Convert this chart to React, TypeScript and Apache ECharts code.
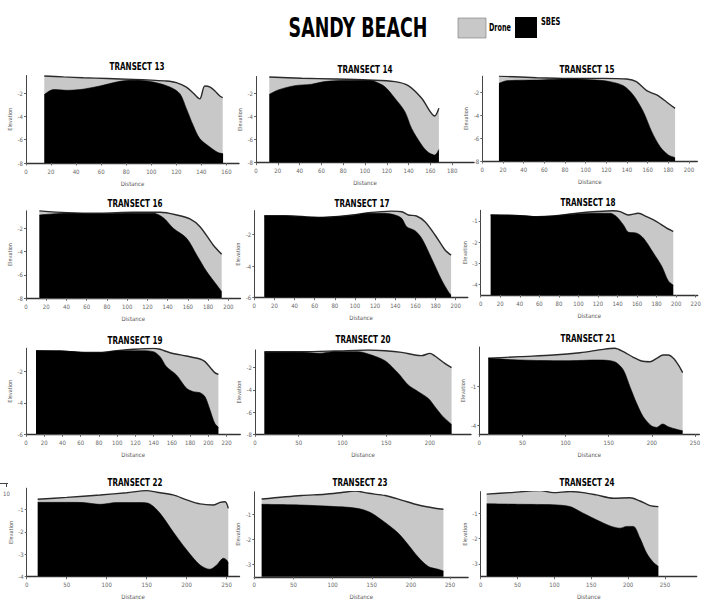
import React, { useEffect, useRef } from "react";
import * as echarts from "echarts";

const TRANSECTS = ["TRANSECT 13", "TRANSECT 14", "TRANSECT 15", "TRANSECT 16", "TRANSECT 17", "TRANSECT 18", "TRANSECT 19", "TRANSECT 20", "TRANSECT 21", "TRANSECT 22", "TRANSECT 23", "TRANSECT 24"];

const t13Drone = [[14.6,-0.54],[30,-0.62],[45.7,-0.69],[65,-0.76],[85.6,-0.83],[100,-0.9],[112,-0.97],[120,-1.11],[128,-1.49],[133.4,-2.0],[138.7,-2.5],[142.7,-1.4],[147,-1.5],[151,-1.85],[154.7,-2.26],[157,-2.4]];
const t13Sbes = [[14.6,-2.14],[21.8,-1.71],[32.4,-1.77],[43,-1.71],[59,-1.4],[75,-1.0],[85.6,-0.91],[101.5,-1.06],[114.8,-1.49],[122.8,-2.06],[128,-3.34],[133.4,-4.77],[138.7,-5.91],[146.7,-6.63],[153.4,-7.11],[157.3,-7.2]];
const t14Drone = [[12.2,-0.59],[41.9,-0.7],[72.4,-0.76],[103,-0.85],[127.4,-0.99],[139.7,-1.34],[152,-2.43],[164,-3.96],[167.8,-3.3]];
const t14Sbes = [[12.2,-2.09],[20.5,-1.71],[35.8,-1.34],[51,-1.22],[63,-0.99],[81.6,-0.9],[103,-0.9],[109,-0.99],[118,-1.42],[127.4,-2.43],[136.6,-3.59],[142.7,-5.03],[152,-6.47],[158,-7.1],[164,-7.34],[167.8,-6.85]];
const t15Drone = [[16.1,-0.54],[52.6,-0.68],[84.8,-0.74],[117,-0.74],[139.7,-0.8],[149,-1.03],[159,-1.82],[168.7,-2.2],[178,-2.79],[186.5,-3.38]];
const t15Sbes = [[16.1,-1.18],[23.5,-0.95],[52.6,-0.89],[84.8,-0.8],[110.6,-0.89],[123.5,-1.03],[136.5,-1.39],[146,-2.2],[155.8,-3.67],[163.9,-5.42],[172,-6.74],[180,-7.47],[186.5,-7.7]];
const t16Drone = [[13.2,-0.51],[40.2,-0.66],[73,-0.71],[106,-0.63],[132.5,-0.63],[149,-0.86],[162,-1.2],[172,-1.86],[185,-3.43],[193.4,-4.23]];
const t16Sbes = [[13.2,-0.86],[40.2,-0.71],[73,-0.77],[106,-0.71],[125.9,-0.71],[135.7,-1.09],[145.6,-2.0],[158.8,-2.86],[168.7,-4.29],[178.6,-5.71],[188.5,-6.86],[193.4,-7.43]];
const t17Drone = [[9.9,-0.82],[30.5,-0.82],[63.6,-0.93],[96.7,-0.78],[113,-0.63],[136.4,-0.53],[146.4,-0.57],[153,-0.78],[161,-0.84],[169.5,-1.2],[179.5,-2.04],[189.4,-2.99],[195.4,-3.31]];
const t17Sbes = [[9.9,-0.84],[30.5,-0.84],[63.6,-0.93],[96.7,-0.82],[113,-0.67],[129.8,-0.67],[139.7,-0.78],[146.4,-0.99],[151.3,-1.52],[159.6,-1.77],[166.2,-2.25],[176,-3.52],[186,-4.88],[192.7,-5.62],[195.4,-5.83]];
const t18Drone = [[10.2,-0.72],[40.2,-0.75],[57.3,-0.8],[74.4,-0.77],[98.2,-0.64],[118.7,-0.56],[135.7,-0.52],[142.6,-0.56],[151,-0.72],[161.3,-0.64],[169.8,-0.8],[180,-1.03],[190.3,-1.34],[197,-1.5]];
const t18Sbes = [[10.2,-0.72],[40.2,-0.75],[57.3,-0.8],[74.4,-0.77],[98.2,-0.67],[118.7,-0.64],[132.3,-0.64],[139,-0.8],[146,-1.19],[151,-1.53],[159.6,-1.58],[166.4,-1.81],[176.7,-2.52],[185.2,-3.14],[192,-3.84],[197,-4.03]];
const t19Drone = [[11,-0.66],[37.3,-0.68],[62.9,-0.77],[81,-0.77],[99.4,-0.66],[117.7,-0.57],[139.6,-0.51],[147,-0.57],[158,-0.79],[176,-1.0],[190.8,-1.19],[196.3,-1.36],[201.8,-1.72],[207,-2.06],[211,-2.17]];
const t19Sbes = [[11,-0.68],[37.3,-0.68],[62.9,-0.77],[81,-0.79],[99.4,-0.68],[125,-0.66],[139.6,-0.72],[147,-1.04],[154,-1.68],[165,-2.21],[176,-3.06],[183.5,-3.28],[190.8,-3.34],[196.3,-3.6],[201.8,-4.45],[207,-5.3],[211,-5.55]];
const t20Drone = [[10.7,-0.56],[53.3,-0.56],[91.4,-0.5],[129.5,-0.41],[148.6,-0.47],[167.6,-0.62],[182.9,-0.86],[190.5,-0.92],[200,-0.71],[205.7,-0.95],[217,-1.61],[224.8,-2.0]];
const t20Sbes = [[10.7,-0.62],[53.3,-0.62],[72.4,-0.71],[91.4,-0.56],[118,-0.56],[129.5,-0.77],[148.6,-1.37],[163.8,-2.51],[175.2,-3.56],[186.7,-4.16],[198,-4.76],[205.7,-5.51],[215,-6.41],[224.8,-7.1]];
const t21Drone = [[10.4,1.13],[47,1.26],[85.8,1.38],[116.7,1.56],[143.7,1.82],[157,1.9],[167,1.64],[178.5,1.21],[188,0.92],[197.8,0.87],[205.6,1.13],[213,1.38],[219,1.38],[225,1.13],[230.7,0.62],[235.7,0.03]];
const t21Sbes = [[10.4,1.13],[47,1.0],[85.8,0.95],[105,0.95],[136,1.0],[151.5,0.95],[159,0.79],[167,0.23],[174.6,-1.05],[182.4,-2.33],[190,-3.36],[199.8,-4.08],[205.6,-4.18],[212.5,-3.92],[219,-4.13],[228.7,-4.33],[235.7,-4.44]];
const t22Drone = [[13.75,-0.55],[50,-0.47],[91.7,-0.36],[125,-0.26],[150,-0.17],[162.5,-0.24],[183,-0.36],[200,-0.58],[216.7,-0.76],[233,-0.81],[241.7,-0.69],[248,-0.66],[252,-0.96]];
const t22Sbes = [[13.75,-0.69],[50,-0.69],[70.8,-0.7],[91.7,-0.78],[112.5,-0.7],[141.7,-0.7],[154,-0.76],[166.7,-1.18],[183,-2.0],[200,-2.81],[216.7,-3.48],[229,-3.67],[237.5,-3.48],[245.8,-3.18],[250,-3.26],[252,-3.4]];
const t23Drone = [[9.4,-0.39],[60.5,-0.25],[90.3,-0.2],[111.6,-0.13],[128.6,-0.07],[145.7,-0.16],[167,-0.25],[188,-0.43],[209.5,-0.63],[230.8,-0.76],[241.5,-0.8]];
const t23Sbes = [[9.4,-0.6],[60.5,-0.63],[103,-0.69],[120,-0.72],[137,-0.8],[150,-0.96],[167,-1.33],[184,-1.76],[196.8,-2.23],[209.5,-2.72],[222.3,-3.09],[235,-3.2],[241.5,-3.27]];
const t24Drone = [[8.1,-0.25],[39.8,-0.19],[80.5,-0.11],[98.6,-0.19],[121,-0.15],[139,-0.19],[157,-0.28],[180,-0.41],[202.5,-0.39],[216,-0.52],[229.7,-0.7],[241,-0.74]];
const t24Sbes = [[8.1,-0.63],[53.3,-0.65],[98.6,-0.67],[121,-0.74],[139,-1.0],[157,-1.26],[175.4,-1.5],[189,-1.59],[198,-1.52],[207,-1.52],[216,-1.98],[225,-2.57],[234,-2.93],[241,-3.09]];

const DRONE = [t13Drone, t14Drone, t15Drone, t16Drone, t17Drone, t18Drone, t19Drone, t20Drone, t21Drone, t22Drone, t23Drone, t24Drone];
const SBES = [t13Sbes, t14Sbes, t15Sbes, t16Sbes, t17Sbes, t18Sbes, t19Sbes, t20Sbes, t21Sbes, t22Sbes, t23Sbes, t24Sbes];

// axis extents and tick labels
const X_MAX = [170, 200, 208, 212, 212, 222, 235, 247, 255, 266, 273, 293];
const Y_MIN = [-8, -8, -8, -8, -6, -4.5, -6, -8, -4.72, -4, -3.5, -3.5];
const Y_MAX = [-0.5, -0.55, -0.55, -0.5, -0.5, -0.5, -0.5, -0.4, 2.0, -0.06, -0.1, -0.15];
const X_TICKS = [
  [0, 20, 40, 60, 80, 100, 120, 140, 160],
  [0, 20, 40, 60, 80, 100, 120, 140, 160, 180],
  [0, 20, 40, 60, 80, 100, 120, 140, 160, 180, 200],
  [0, 20, 40, 60, 80, 100, 120, 140, 160, 180, 200],
  [0, 20, 40, 60, 80, 100, 120, 140, 160, 180, 200],
  [0, 20, 40, 60, 80, 100, 120, 140, 160, 180, 200, 220],
  [0, 20, 40, 60, 80, 100, 120, 140, 160, 180, 200, 220],
  [0, 50, 100, 150, 200],
  [0, 50, 100, 150, 200, 250],
  [0, 50, 100, 150, 200, 250],
  [0, 50, 100, 150, 200, 250],
  [0, 50, 100, 150, 200, 250],
];
const Y_TICKS = [
  [-8, -6, -4, -2], [-8, -6, -4, -2], [-8, -6, -4, -2], [-8, -6, -4, -2],
  [-6, -4, -2], [-4, -3, -2, -1], [-6, -4, -2], [-8, -6, -4, -2],
  [-4, -1], [-4, -3, -2, -1], [-3, -2, -1], [-3, -2, -1],
];

// layout (pixel positions)
const GRIDS = [
  { left: 26, top: 75.5, width: 213, height: 87.5 },
  { left: 256, top: 76.5, width: 218, height: 86.2 },
  { left: 482.3, top: 76.2, width: 215, height: 84.8 },
  { left: 26, top: 210.8, width: 214.5, height: 87.5 },
  { left: 254.3, top: 210.6, width: 213.5, height: 87.1 },
  { left: 480.7, top: 210.3, width: 217, height: 84.7 },
  { left: 26, top: 348.2, width: 214.3, height: 86.1 },
  { left: 255, top: 349.9, width: 216, height: 84.4 },
  { left: 479.3, top: 347, width: 220, height: 87.4 },
  { left: 26.7, top: 488.2, width: 212.8, height: 88.5 },
  { left: 254.3, top: 491.8, width: 213.8, height: 85 },
  { left: 480.7, top: 491.6, width: 216, height: 85.1 },
];
const TITLE_POS = [[137, 67], [365, 70], [587, 70], [135, 204], [362, 204], [588, 203], [135, 341], [363, 340], [588, 339], [135, 483], [360, 483], [587, 483]];

const FONT = "'DejaVu Sans Condensed', 'Liberation Sans Narrow', 'Liberation Sans', sans-serif";

export default function App() {
  const ref = useRef<HTMLDivElement>(null);
  useEffect(() => {
    if (!ref.current) return;
    const chart = echarts.init(ref.current, undefined, { renderer: "svg" });
    const grid = GRIDS.map((g) => ({ ...g, containLabel: false }));
    const xAxis = GRIDS.map((_, i) => ({
      type: "value",
      gridIndex: i,
      min: 0,
      max: X_MAX[i],
      name: "Distance",
      nameLocation: "middle",
      nameGap: 17,
      nameTextStyle: { fontSize: 6, color: "#555", fontFamily: FONT },
      axisLine: { show: true, onZero: false, lineStyle: { color: "#333", width: 1.3 } },
      axisTick: { show: true, customValues: X_TICKS[i], length: 2.5, lineStyle: { color: "#666" } },
      axisLabel: { customValues: X_TICKS[i], fontSize: 6, color: "#666", margin: 5, fontFamily: FONT },
      splitLine: { show: false },
    }));
    const yAxis = GRIDS.map((_, i) => ({
      type: "value",
      gridIndex: i,
      min: Y_MIN[i],
      max: Y_MAX[i],
      name: "Elevation",
      nameLocation: "middle",
      nameGap: 13,
      nameRotate: 90,
      nameTextStyle: { fontSize: 5.5, color: "#555", fontFamily: FONT },
      axisLine: { show: true, onZero: false, lineStyle: { color: "#444", width: 1 } },
      axisTick: { show: true, customValues: Y_TICKS[i], length: 2, lineStyle: { color: "#666" } },
      axisLabel: { customValues: Y_TICKS[i], fontSize: 6, color: "#666", margin: 3, fontFamily: FONT },
      splitLine: { show: false },
    }));
    const series: any[] = [];
    GRIDS.forEach((_, i) => {
      series.push({
        type: "line",
        name: "Drone",
        xAxisIndex: i,
        yAxisIndex: i,
        data: DRONE[i],
        symbol: "none",
        smooth: 0.3,
        z: 2,
        lineStyle: { color: "#2a2a2a", width: 1.4 },
        areaStyle: { color: "#c8c8c8", opacity: 1, origin: "start" },
      });
      series.push({
        type: "line",
        name: "SBES",
        xAxisIndex: i,
        yAxisIndex: i,
        data: SBES[i],
        symbol: "none",
        smooth: 0.3,
        z: 3,
        lineStyle: { color: "#000", width: 0.6 },
        areaStyle: { color: "#000", opacity: 1, origin: "start" },
      });
    });
    const graphic: any[] = [
      {
        type: "text",
        x: 358,
        y: 28,
        scaleX: 0.72,
        style: { text: "SANDY BEACH", fontSize: 27, fontWeight: "bold", fontFamily: FONT, fill: "#000", textAlign: "center", textVerticalAlign: "middle" },
      },
      { type: "rect", shape: { x: 458, y: 18, width: 28, height: 20 }, style: { fill: "#c8c8c8", stroke: "#777", lineWidth: 0.6 } },
      { type: "text", x: 489, y: 28, scaleX: 0.72, style: { text: "Drone", fontSize: 10, fontWeight: "bold", fontFamily: FONT, fill: "#000", textVerticalAlign: "middle" } },
      { type: "rect", shape: { x: 515, y: 17, width: 22, height: 21 }, style: { fill: "#000" } },
      { type: "text", x: 541, y: 22, scaleX: 0.75, style: { text: "SBES", fontSize: 10, fontWeight: "bold", fontFamily: FONT, fill: "#000", textVerticalAlign: "middle" } },
      { type: "line", shape: { x1: 0, y1: 483.5, x2: 8, y2: 483.5 }, style: { stroke: "#444", lineWidth: 1 } },
      { type: "line", shape: { x1: 6.5, y1: 483.5, x2: 6.5, y2: 487 }, style: { stroke: "#444", lineWidth: 1 } },
      { type: "text", x: 3, y: 493, style: { text: "10", fontSize: 6, fontFamily: FONT, fill: "#666", textVerticalAlign: "middle" } },
    ];
    TRANSECTS.forEach((t, i) => {
      graphic.push({
        type: "text",
        x: TITLE_POS[i][0],
        y: TITLE_POS[i][1],
        scaleX: 0.8,
        style: { text: t, fontSize: 10, fontWeight: "bold", fontFamily: FONT, fill: "#000", textAlign: "center", textVerticalAlign: "middle" },
      });
    });
    chart.setOption({
      animation: false,
      backgroundColor: "#fff",
      textStyle: { fontFamily: FONT },
      grid,
      xAxis,
      yAxis,
      series,
      graphic,
    });
    return () => chart.dispose();
  }, []);
  return <div ref={ref} style={{ position: "absolute", left: 0, top: 0, width: 707, height: 612 }} />;
}
